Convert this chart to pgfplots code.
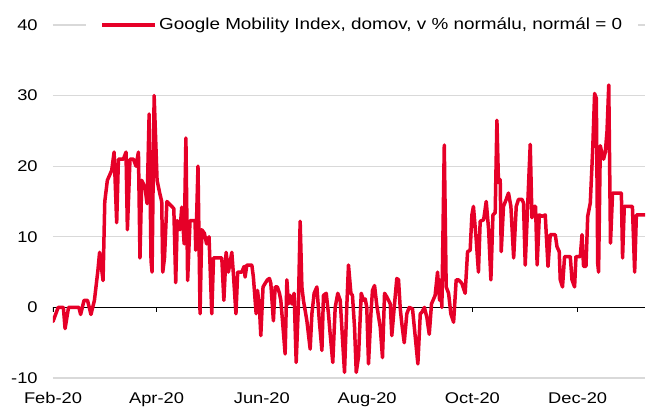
\documentclass[border=0pt]{standalone}
\usepackage{fontspec}
\setmainfont{Liberation Sans}[FakeStretch=1.18]
\usepackage{pgfplots}
\pgfplotsset{compat=1.18}
\definecolor{lred}{RGB}{230,0,40}
\definecolor{lgrid}{RGB}{217,217,217}
\pgfplotstableread{
d v
0 -2
3 0
6 0
7 -3
9 0
15 0
16 -1
18 1
20 1
22 -1
24 1
26 5.2
27 7.8
29 3.8
30 15
31.5 18
34 19.4
35.4 22
36.9 12
37.9 21
40.8 21
42.3 22
43.1 11
44.6 21
46.6 21
48.1 20
49.5 22
50.4 7
51.4 18
53.3 17
54.5 14.7
55.7 27.4
56.8 6.6
57.4 5
58.6 30
60.3 18
62 16
63 15
63.6 5
64.6 7
66 15
68 14.5
70 14
71.1 3.5
72 12.3
73.6 11
74.6 14.2
76 9
77 24
78 3.8
79.4 12.3
82.3 12.3
82.7 8.1
84 20
85.2 -0.9
86.2 11
87.7 10.5
89 9
90.4 10
92 -0.9
93 7
97.8 7
99 1
100.3 7.8
101.6 5
103.6 7.8
104.5 4.8
106 -0.9
107 5
109.4 5
110.7 5.8
111.3 4.3
112.3 6
115.2 6
116.1 4.3
117.7 -0.9
118.5 2.4
119.6 0
120.4 -4
121.7 2.9
122.9 3.4
124.2 3.9
125.4 4.1
126.2 3.4
127.7 -1.9
128.7 2.9
130 2.9
131.2 2
132 1
133.1 -2.3
134.5 -6.6
135.5 3.9
136.4 0.5
137.4 1.7
138.4 0.5
139.7 2
140.9 -7.8
142.2 0.5
143.2 12.2
144.2 2.9
145.1 1
147.1 -1.9
149 -5.9
150 -0.9
151.3 2
152.9 2.9
154.2 -1.6
155.8 -6.1
156.7 1.7
158.3 2
159.6 -0.9
160.6 -3.8
162.1 -7.8
163.5 0
165 2
166.4 1
168.9 -9.2
170.2 0
171.2 6
172.6 2
173.5 1.7
174.7 -2.8
175.7 -9.2
177 -7
178.6 2
179.9 1
180.9 1.2
181.8 0
182.8 -8
184.2 -0.9
185.1 2.4
186.3 3.1
187.6 0.3
189.6 -2.8
190.9 -7.1
192.1 2
193.4 1.5
195.4 0.5
196.3 -4
197.7 0
199.2 4.1
200.2 3.9
201.2 -0.2
202.1 -2.3
203.5 -5
205 -0.9
206.4 0
208.3 -0.2
209.9 -4.2
211.4 -8
212.8 -0.9
213.7 -0.7
215.2 0
216.6 -1.4
218 -3.8
219.3 0.5
221.4 1.7
222.8 5
224 1
224.7 3.9
225.3 0
226.7 23
227.8 2.9
229.2 2
230.5 -0.9
232.1 -2.1
233.6 3.9
235 3.9
236.9 3.4
238.8 2
240.2 7.9
241.7 8.1
242.7 13.1
243.6 14.3
245.2 9.6
246.5 5
247.5 12.2
249.5 12.4
251 15
252.4 11
253.7 3.9
254.9 13.1
256.2 13.4
257.2 26.5
258.1 17.7
259.1 18.1
259.7 7.9
261 14.3
262.6 15.3
263.9 16.2
265.3 14.3
266.9 7
268.4 14.3
269.7 15.3
271.7 15.3
272.6 14.8
273.6 6
275 14.3
276.5 23.1
277.5 12.7
278.8 14.3
279.6 14.3
280.5 6
281.8 13.1
283.3 12.9
285.2 13.1
286.8 5.8
288.1 10.3
291 10.3
292 8.6
293.3 7.9
293.9 3.9
295.2 2.9
296.4 7.2
299.7 7.2
300.7 3.9
302.2 2.9
303 7.2
305.5 7.2
306.5 10.3
307.4 5.8
308.8 5.8
309.8 12.9
311.3 14.8
312.7 22.4
313.8 30.3
314.8 29.6
315.6 6.2
316.1 5
317.1 22.9
318.1 21.7
319 21
320 22
321 25
322 31.5
323 9.1
324.2 16.2
329.3 16.2
330 7
331 14.3
335.7 14.3
337 5
338 13.1
343 13.1
}\mobility
\begin{document}
\fontsize{15.5}{18}\selectfont
\begin{tikzpicture}
\path[use as bounding box] (-53pt,-30pt) rectangle (616pt,378pt);
\begin{axis}[
  at={(0,0)}, anchor=south west,
  scale only axis, width=592pt, height=353pt,
  xmin=0, xmax=343, ymin=-10, ymax=40,
  axis line style={draw=none},
  xtick={0,60,121,182,243,304},
  xticklabels={Feb-20,Apr-20,Jun-20,Aug-20,Oct-20,Dec-20},
  ytick={-10,0,10,20,30,40},
  major tick length=0pt,
  ymajorgrids, grid style={lgrid, line width=1.2pt},
  tick label style={font=\fontsize{15.5}{18}\selectfont},
  /pgf/number format/assume math mode=true,
  yticklabel style={xshift=-10pt},
  xticklabel style={yshift=-9pt},
  legend style={at={(0.0557,1)}, anchor=west, draw=none, fill=white,
    inner xsep=14pt, inner ysep=1pt,
    font=\fontsize{16}{18}\selectfont},
  legend image code/.code={\draw[#1, line width=4pt, line cap=butt] (0pt,0pt) -- (53pt,0pt);},
]
\draw[black, line width=1.3pt] (axis cs:0,0) -- (axis cs:343,0);
\pgfplotsinvokeforeach{0,60,121,182,243,304}{
  \draw[black, line width=1.2pt] (axis cs:#1,0) -- ([yshift=-5pt]axis cs:#1,0);
}
\addplot[lred, line width=3.5pt, line join=round, line cap=round] table[x=d, y=v] {\mobility};
\addlegendentry{Google Mobility Index, domov, v \% normálu, normál = 0}
\end{axis}
\end{tikzpicture}
\end{document}
